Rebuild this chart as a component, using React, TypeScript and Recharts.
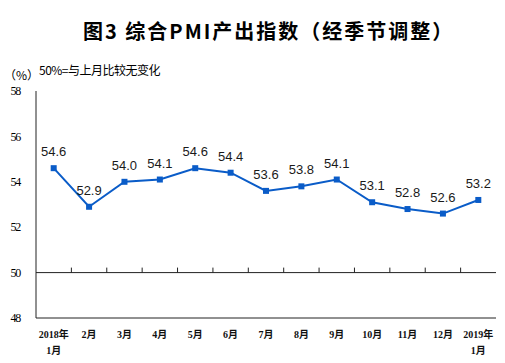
import React from 'react';
import {
	LineChart,
	Line,
	XAxis,
	YAxis,
	ReferenceLine,
	LabelList,
} from 'recharts';

const months = [
	'2018年|1月',
	'2月',
	'3月',
	'4月',
	'5月',
	'6月',
	'7月',
	'8月',
	'9月',
	'10月',
	'11月',
	'12月',
	'2019年|1月',
];
const pmiValues = [54.6, 52.9, 54.0, 54.1, 54.6, 54.4, 53.6, 53.8, 54.1, 53.1, 52.8, 52.6, 53.2];
const yTicks = [48, 50, 52, 54, 56, 58];
const xPositions = months.map((_, i) => i + 1);
const dividers = xPositions.slice(1).map(x => x - 0.5);

const data = months.map((m, i) => ({ x: xPositions[i], month: m, value: pmiValues[i] }));

const LINE = '#0a5cc8';
const serif = '"Liberation Serif", "Noto Sans CJK SC", serif';

const MonthTick = (props: any) => {
	const { x, y, payload } = props;
	const label = months[payload.value - 1] || '';
	const lines = label.split('|');
	return (
		<g>
			{lines.map((t, i) => (
				<text
					key={i}
					x={x}
					y={y + 12 + i * 16}
					textAnchor='middle'
					fontSize={10}
					fontWeight='bold'
					fill='#111'
					style={{ fontFamily: serif }}
				>
					{t}
				</text>
			))}
		</g>
	);
};

const Square = (props: any) => {
	const { cx, cy } = props;
	if (cx == null || cy == null) return null;
	return <rect x={cx - 3} y={cy - 3} width={6} height={6} fill={LINE} />;
};

const App = () => {
	return (
		<div style={{ position: 'absolute', left: 0, top: 0, width: 505, height: 363, background: '#fff' }}>
			<div
				style={{
					position: 'absolute',
					left: 83,
					top: 17,
					whiteSpace: 'nowrap',
					fontSize: 20,
					fontWeight: 'bold',
					fontFamily: '"Noto Sans CJK SC", sans-serif',
					color: '#000',
					lineHeight: '28px',
					letterSpacing: 2,
				}}
			>
				图3&nbsp;综合PMI产出指数（经季节调整）
			</div>
			<div
				style={{
					position: 'absolute',
					left: 4,
					top: 67,
					fontSize: 12,
					fontFamily: '"Noto Sans CJK SC", sans-serif',
					lineHeight: '16px',
					color: '#000',
				}}
			>
				（%）
			</div>
			<div
				style={{
					position: 'absolute',
					left: 39,
					top: 62,
					fontSize: 12,
					fontFamily: '"Noto Sans CJK SC", sans-serif',
					lineHeight: '16px',
					color: '#000',
					letterSpacing: -0.5,
				}}
			>
				50%=与上月比较无变化
			</div>
			<div style={{ position: 'absolute', left: 0, top: 0 }}>
				<LineChart
					width={505}
					height={363}
					data={data}
					margin={{ top: 91, right: 9, bottom: 0, left: 6 }}
				>
					<XAxis
						xAxisId='top'
						orientation='top'
						dataKey='x'
						type='number'
						domain={[0.5, 13.5]}
						height={0}
						tick={false}
						tickLine={false}
						axisLine={{ stroke: '#222', strokeWidth: 1 }}
					/>
					<XAxis
						dataKey='x'
						type='number'
						domain={[0.5, 13.5]}
						ticks={xPositions}
						interval={0}
						height={45}
						tickLine={false}
						axisLine={{ stroke: '#222', strokeWidth: 1 }}
						tick={<MonthTick />}
					/>
					<YAxis
						domain={[48, 58]}
						ticks={yTicks}
						width={30}
						tickLine={false}
						axisLine={{ stroke: '#222', strokeWidth: 1 }}
						tick={{ fontSize: 12, fill: '#000', fontFamily: serif, letterSpacing: -1.2 }}
						tickMargin={10}
						interval={0}
					/>
					<YAxis
						yAxisId='right'
						orientation='right'
						domain={[48, 58]}
						width={0}
						tick={false}
						tickLine={false}
						axisLine={{ stroke: '#222', strokeWidth: 1 }}
					/>
					<ReferenceLine y={50} stroke='#222' strokeWidth={1} />
					{dividers.map(d => (
						<ReferenceLine
							key={d}
							segment={[
								{ x: d, y: 50 },
								{ x: d, y: 50.22 },
							]}
							stroke='#222'
							strokeWidth={1}
						/>
					))}
					<Line
						type='linear'
						dataKey='value'
						stroke={LINE}
						strokeWidth={2}
						dot={<Square />}
						activeDot={false}
						isAnimationActive={false}
					>
						<LabelList
							dataKey='value'
							position='top'
							offset={12}
							formatter={(v: any) => Number(v).toFixed(1)}
							style={{ fontSize: 13, fill: '#1a1a1a', fontFamily: '"Liberation Sans", Arial, sans-serif' }}
						/>
					</Line>
				</LineChart>
			</div>
		</div>
	);
};

export default App;
